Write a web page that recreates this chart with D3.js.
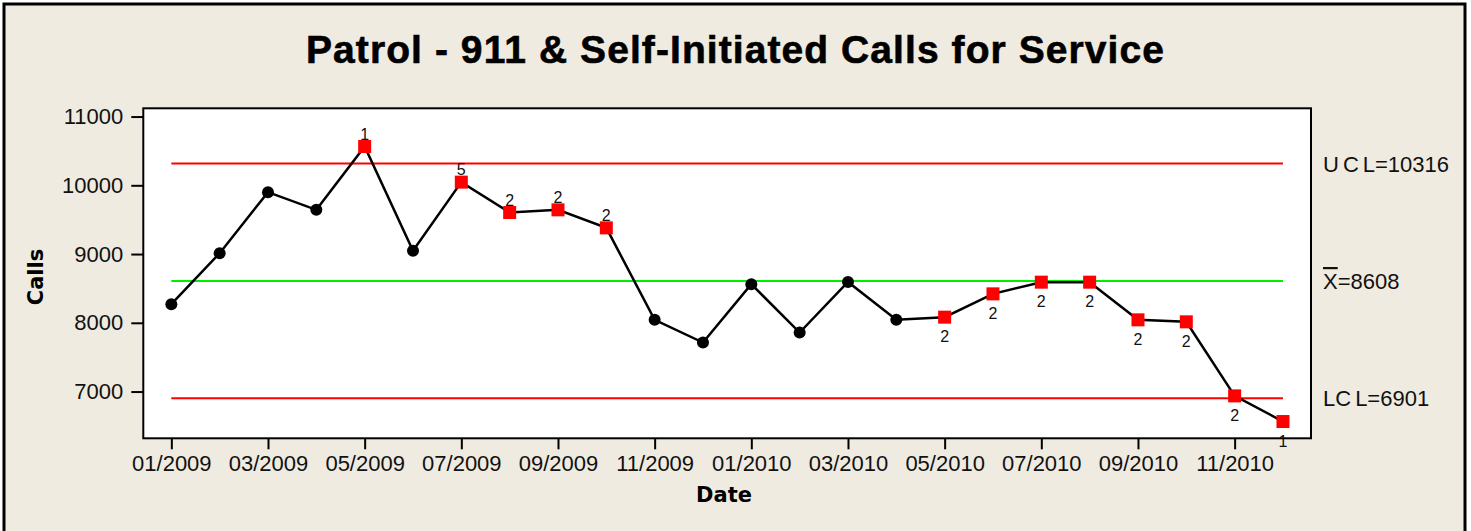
<!DOCTYPE html>
<html><head><meta charset="utf-8">
<script src="https://cdn.jsdelivr.net/npm/d3@7"></script>
<style>body{margin:0;background:#fff;overflow:hidden}</style>
</head><body>
<svg id="c" width="1471" height="531"></svg>
<script>
// ---- data ----
const months = ["01/2009","02/2009","03/2009","04/2009","05/2009","06/2009","07/2009","08/2009","09/2009","10/2009","11/2009","12/2009",
                "01/2010","02/2010","03/2010","04/2010","05/2010","06/2010","07/2010","08/2010","09/2010","10/2010","11/2010","12/2010"];
const calls = [8271, 9013, 9900, 9643, 10564, 9047, 10046, 9604, 9643, 9381, 8043, 7713,
               8562, 7858, 8595, 8043, 8082, 8421, 8591, 8591, 8043, 8014, 6937, 6564];
const flags = [null,null,null,null,"1",null,"5","2","2","2",null,null,
               null,null,null,null,"2","2","2","2","2","2","2","1"];
const limitNames = ["UCL","CL","LCL"];
const limitValues = [10316, 8608, 6901];
const yTicks = [7000, 8000, 9000, 10000, 11000];
const xTickLabels = ["01/2009","03/2009","05/2009","07/2009","09/2009","11/2009","01/2010","03/2010","05/2010","07/2010","09/2010","11/2010"];

// ---- layout ----
const svg = d3.select("#c");
const L = 143.3, R = 1311, T = 108.3, B = 438.3;
const x = d3.scaleLinear().domain([-0.58, months.length - 1 + 0.58]).range([L, R]);
const y = d3.scaleLinear().domain([6320, 11120]).range([B, T]);

svg.append("rect").attr("x", 4).attr("y", 4).attr("width", 1461).attr("height", 540)
   .attr("fill", "#efebe1").attr("stroke", "#000").attr("stroke-width", 3);

svg.append("rect").attr("x", L).attr("y", T).attr("width", R - L).attr("height", B - T)
   .attr("fill", "#fff");

// title
svg.append("text").attr("x", 735).attr("y", 63).attr("text-anchor", "middle")
   .attr("font-family", "Liberation Sans, Arial, sans-serif").attr("font-weight", "bold")
   .attr("font-size", 39).attr("textLength", 858).attr("lengthAdjust", "spacing")
   .attr("stroke", "#000").attr("stroke-width", 0.6)
   .text("Patrol - 911 & Self-Initiated Calls for Service");

// axes
const yAxis = d3.axisLeft(y).tickValues(yTicks).tickSize(12).tickPadding(8).tickFormat(d3.format("d"));
const gy = svg.append("g").attr("transform", `translate(${L},0)`).call(yAxis);
gy.select(".domain").remove();
gy.selectAll("line").attr("stroke", "#000").attr("stroke-width", 2);
gy.selectAll("text").attr("font-family", "Liberation Sans, Arial, sans-serif").attr("font-size", 22).attr("fill", "#111");

const xAxis = d3.axisBottom(x)
  .tickValues(xTickLabels.map(l => months.indexOf(l)))
  .tickFormat(i => months[i]).tickSize(11).tickPadding(6);
const gx = svg.append("g").attr("transform", `translate(0,${B})`).call(xAxis);
gx.select(".domain").remove();
gx.selectAll("line").attr("stroke", "#000").attr("stroke-width", 2);
gx.selectAll("text").attr("font-family", "Liberation Sans, Arial, sans-serif").attr("font-size", 22).attr("fill", "#111");

// axis titles
svg.append("text").attr("transform", `translate(43,277) rotate(-90)`).attr("text-anchor", "middle")
   .attr("font-family", "DejaVu Sans, sans-serif").attr("font-weight", "bold").attr("font-size", 21)
   .text("Calls");
svg.append("text").attr("x", 724).attr("y", 502).attr("text-anchor", "middle")
   .attr("font-family", "DejaVu Sans, sans-serif").attr("font-weight", "bold").attr("font-size", 21)
   .text("Date");

// control lines
const lineColors = ["#ff0000", "#00ee00", "#ff0000"];
limitValues.forEach((v, i) => {
  svg.append("line").attr("x1", x(0)).attr("x2", x(months.length - 1))
     .attr("y1", y(v)).attr("y2", y(v))
     .attr("stroke", lineColors[i]).attr("stroke-width", 2);
});

// data line
svg.append("path").datum(calls)
   .attr("d", d3.line().x((d, i) => x(i)).y(d => y(d)))
   .attr("fill", "none").attr("stroke", "#000").attr("stroke-width", 2.5);

// markers
calls.forEach((v, i) => {
  if (flags[i]) {
    svg.append("rect").attr("x", x(i) - 6.5).attr("y", y(v) - 6.5).attr("width", 13).attr("height", 13)
       .attr("fill", "#ff0000");
  } else {
    svg.append("circle").attr("cx", x(i)).attr("cy", y(v)).attr("r", 6).attr("fill", "#000");
  }
});

// flag labels
calls.forEach((v, i) => {
  if (!flags[i]) return;
  const above = v > limitValues[1];
  svg.append("text").attr("x", x(i)).attr("y", above ? y(v) - 7 : y(v) + 25)
     .attr("text-anchor", "middle").attr("font-family", "Liberation Sans, Arial, sans-serif")
     .attr("font-size", 16).attr("fill", "#111").text(flags[i]);
});

// plot frame
svg.append("rect").attr("x", L).attr("y", T).attr("width", R - L).attr("height", B - T)
   .attr("fill", "none").attr("stroke", "#000").attr("stroke-width", 2);

// limit labels
const lf = "Liberation Sans, Arial, sans-serif";
const ucl = svg.append("text").attr("x", 1323).attr("y", y(limitValues[0]) + 8)
   .attr("font-family", lf).attr("font-size", 22).attr("fill", "#111");
ucl.append("tspan").text("U");
ucl.append("tspan").attr("dx", 4).text("C");
ucl.append("tspan").attr("dx", 4).text("L=" + limitValues[0]);

const cl = svg.append("text").attr("x", 1323).attr("y", y(limitValues[1]) + 8)
   .attr("font-family", lf).attr("font-size", 22).attr("fill", "#111");
cl.append("tspan").style("text-decoration", "overline").text("X");
cl.append("tspan").text("=" + limitValues[1]);

const lcl = svg.append("text").attr("x", 1323).attr("y", y(limitValues[2]) + 8)
   .attr("font-family", lf).attr("font-size", 22).attr("fill", "#111");
lcl.append("tspan").text("LC");
lcl.append("tspan").attr("dx", 4).text("L=" + limitValues[2]);
</script>
</body></html>
